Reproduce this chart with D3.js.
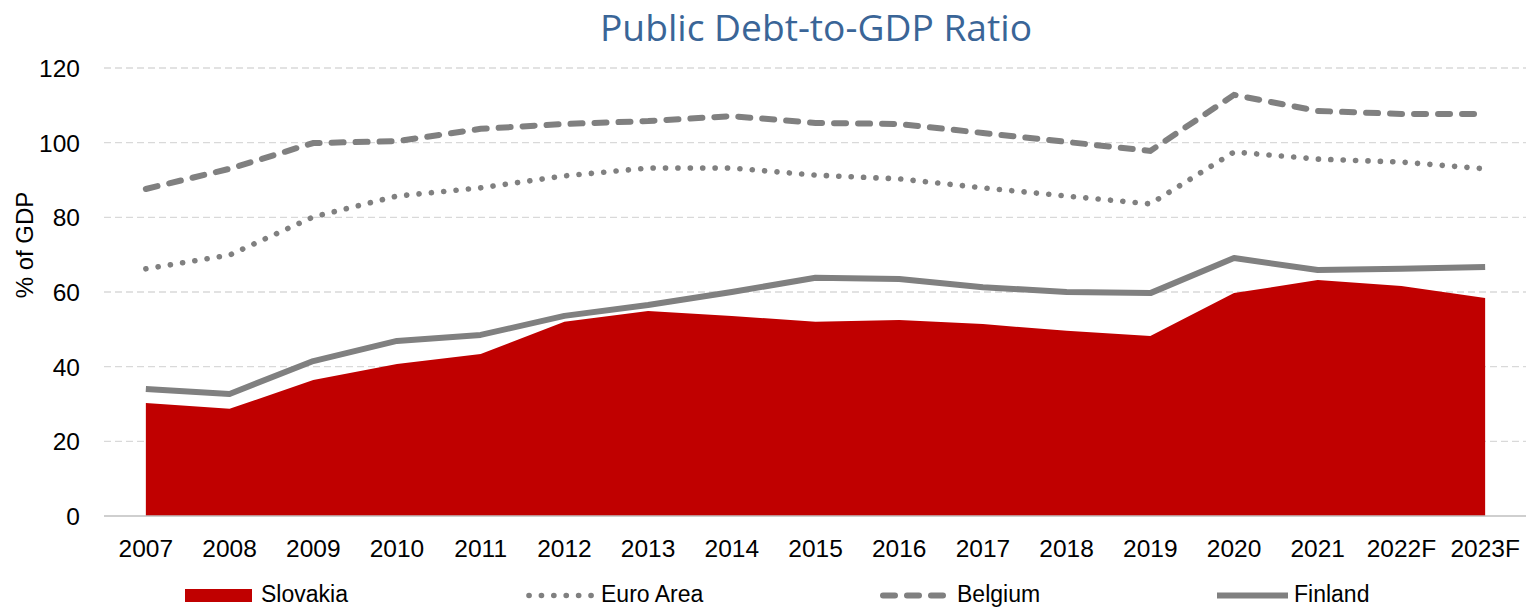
<!DOCTYPE html>
<html>
<head>
<meta charset="utf-8">
<script src="https://cdn.jsdelivr.net/npm/d3@7"></script>
<style>
  html, body { margin: 0; padding: 0; background: #fff; }
  svg { display: block; }
</style>
</head>
<body>
<svg id="chart" width="1526" height="607"></svg>
<script>
// Years on the horizontal axis (F = forecast)
const years = ["2007","2008","2009","2010","2011","2012","2013","2014","2015","2016","2017","2018","2019","2020","2021","2022F","2023F"];

// Public debt, % of GDP
const slovakia = [30.3, 28.7, 36.4, 40.7, 43.4, 52.0, 54.9, 53.6, 52.0, 52.5, 51.4, 49.6, 48.2, 59.7, 63.2, 61.6, 58.4];
const euroArea = [66.2, 69.9, 80.1, 85.7, 87.9, 91.1, 93.2, 93.2, 91.3, 90.3, 87.9, 85.7, 83.6, 97.5, 95.6, 94.8, 93.0];
const belgium  = [87.6, 93.0, 99.9, 100.4, 103.7, 105.0, 105.8, 107.1, 105.3, 105.0, 102.6, 100.2, 97.8, 112.8, 108.5, 107.7, 107.7];
const finland  = [34.0, 32.7, 41.5, 46.9, 48.5, 53.6, 56.5, 60.0, 63.8, 63.5, 61.3, 60.0, 59.7, 69.1, 65.9, 66.2, 66.7];

const yTicks = [0, 20, 40, 60, 80, 100, 120];

const svg = d3.select("#chart");
const plotLeft = 104, plotRight = 1527, plotTop = 68, plotBottom = 516;

const x = d3.scaleBand().domain(years).range([plotLeft, plotRight]).paddingInner(0).paddingOuter(0);
const cx = d => x(d) + x.bandwidth() / 2;
const y = d3.scaleLinear().domain([0, 120]).range([plotBottom, plotTop]);

const grey = "#808080";

// Title
svg.append("text")
  .attr("x", 816).attr("y", 41)
  .attr("text-anchor", "middle")
  .attr("font-family", "'Open Sans', sans-serif")
  .attr("font-size", 36)
  .attr("fill", "#3A6597")
  .attr("textLength", 432)
  .attr("lengthAdjust", "spacingAndGlyphs")
  .text("Public Debt-to-GDP Ratio");

// Horizontal gridlines
svg.append("g").selectAll("line")
  .data(yTicks.filter(t => t > 0))
  .join("line")
  .attr("x1", plotLeft).attr("x2", 1526)
  .attr("y1", d => y(d)).attr("y2", d => y(d))
  .attr("stroke", "#d9d9d9")
  .attr("stroke-width", 1.3)
  .attr("stroke-dasharray", "7,4");

// Y axis labels
const yAxis = d3.axisLeft(y).tickValues(yTicks).tickSize(0).tickPadding(0);
const gy = svg.append("g").attr("transform", `translate(80,0)`).call(yAxis);
gy.select(".domain").remove();
gy.selectAll("text")
  .attr("font-family", "'Liberation Sans', Arial, sans-serif")
  .attr("font-size", 24.5)
  .attr("fill", "#000")
  .attr("dy", "0.35em");

// Axis title
svg.append("text")
  .attr("transform", "translate(33,245) rotate(-90)")
  .attr("text-anchor", "middle")
  .attr("font-family", "'Liberation Sans', Arial, sans-serif")
  .attr("font-size", 24)
  .attr("fill", "#000")
  .text("% of GDP");

// Slovakia area
const area = d3.area()
  .x((d, i) => cx(years[i]))
  .y0(y(0))
  .y1(d => y(d));
svg.append("path")
  .datum(slovakia)
  .attr("d", area)
  .attr("fill", "#C00000");

// Baseline
svg.append("line")
  .attr("x1", plotLeft).attr("x2", 1526)
  .attr("y1", plotBottom).attr("y2", plotBottom)
  .attr("stroke", "#bfbfbf")
  .attr("stroke-width", 1.5);

// X axis labels
const xAxis = d3.axisBottom(x).tickSize(0).tickPadding(0);
const gx = svg.append("g").attr("transform", `translate(0,${plotBottom})`).call(xAxis);
gx.select(".domain").remove();
gx.selectAll("text")
  .attr("font-family", "'Liberation Sans', Arial, sans-serif")
  .attr("font-size", 24.5)
  .attr("fill", "#000")
  .attr("y", 41)
  .attr("dy", 0);

// Lines
const line = d3.line().x((d, i) => cx(years[i])).y(d => y(d));

const styles = {
  finland: { dash: null, width: 6 },
  euro: { dash: "0.1,12.3", width: 5.6 },
  belgium: { dash: "12,12", width: 6 }
};

svg.append("path").datum(finland).attr("d", line)
  .attr("fill", "none").attr("stroke", grey)
  .attr("stroke-width", styles.finland.width)
  .attr("stroke-linejoin", "round");

svg.append("path").datum(euroArea).attr("d", line)
  .attr("fill", "none").attr("stroke", grey)
  .attr("stroke-width", styles.euro.width)
  .attr("stroke-linecap", "round")
  .attr("stroke-dasharray", styles.euro.dash);

svg.append("path").datum(belgium).attr("d", line)
  .attr("fill", "none").attr("stroke", grey)
  .attr("stroke-width", styles.belgium.width)
  .attr("stroke-linecap", "round")
  .attr("stroke-dasharray", styles.belgium.dash);

// Legend
const legendY = 595.5;
const legendBase = 602;
const lg = svg.append("g")
  .attr("font-family", "'Liberation Sans', Arial, sans-serif")
  .attr("font-size", 23)
  .attr("fill", "#000");

lg.append("rect").attr("x", 185).attr("y", 589).attr("width", 67).attr("height", 13).attr("fill", "#C00000");
lg.append("text").attr("x", 261).attr("y", legendBase).text("Slovakia");

lg.append("line").attr("x1", 529).attr("x2", 592).attr("y1", legendY).attr("y2", legendY)
  .attr("stroke", grey).attr("stroke-width", 5.6)
  .attr("stroke-linecap", "round").attr("stroke-dasharray", styles.euro.dash);
lg.append("text").attr("x", 601).attr("y", legendBase).text("Euro Area");

lg.append("line").attr("x1", 883).attr("x2", 944).attr("y1", legendY).attr("y2", legendY)
  .attr("stroke", grey).attr("stroke-width", 6)
  .attr("stroke-linecap", "round").attr("stroke-dasharray", styles.belgium.dash);
lg.append("text").attr("x", 957).attr("y", legendBase).text("Belgium");

lg.append("line").attr("x1", 1217).attr("x2", 1288).attr("y1", legendY).attr("y2", legendY)
  .attr("stroke", grey).attr("stroke-width", 6);
lg.append("text").attr("x", 1294).attr("y", legendBase).text("Finland");
</script>
</body>
</html>
